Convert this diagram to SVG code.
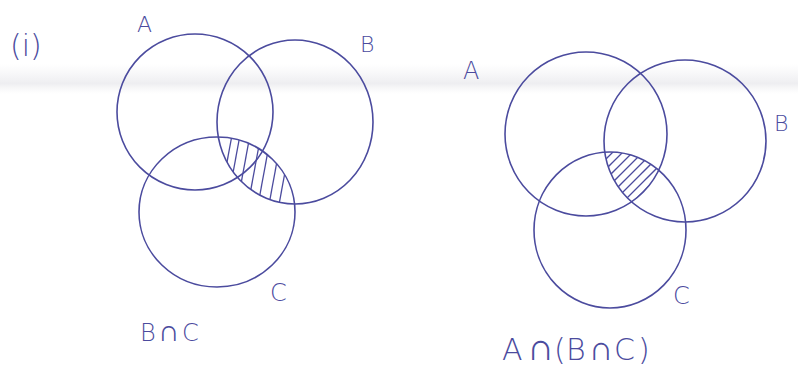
<svg xmlns="http://www.w3.org/2000/svg" width="798" height="372" viewBox="0 0 798 372">
<defs>
<style>
.c{fill:none;stroke:#4b4b9e;stroke-width:1.6}
.h{stroke:#4b4b9e;stroke-width:1.3}
.t{font-family:"DejaVu Sans","Liberation Sans",sans-serif;fill:#4b4b9e;font-weight:300}
</style>
<linearGradient id="band" x1="0" y1="0" x2="0" y2="1">
<stop offset="0" stop-color="#ececef" stop-opacity="0"/>
<stop offset="0.65" stop-color="#e8e8ec" stop-opacity="0.75"/>
<stop offset="1" stop-color="#f0f0f2" stop-opacity="0"/>
</linearGradient>
<clipPath id="lB"><ellipse cx="295" cy="122" rx="78" ry="82"/></clipPath>
<clipPath id="lC"><ellipse cx="217" cy="212" rx="78" ry="75"/></clipPath>
<clipPath id="rA"><ellipse cx="586" cy="134" rx="81" ry="82"/></clipPath>
<clipPath id="rB"><ellipse cx="685" cy="141" rx="81" ry="81"/></clipPath>
<clipPath id="rC"><ellipse cx="610" cy="230" rx="76" ry="78"/></clipPath>
</defs>
<rect width="798" height="372" fill="#ffffff"/>
<rect x="0" y="64" width="798" height="30" fill="url(#band)"/>
<text class="t" x="10" y="56" font-size="30">(i)</text>
<g id="left">
<g id="lA"><ellipse class="c" cx="195" cy="112" rx="78" ry="78"/><text class="t" x="137" y="32" font-size="22">A</text></g>
<g id="lBg"><ellipse class="c" cx="295" cy="122" rx="78" ry="82"/><text class="t" x="360" y="52" font-size="22">B</text></g>
<g id="lCg"><ellipse class="c" cx="217" cy="212" rx="78" ry="75"/><text class="t" x="270" y="301" font-size="24">C</text></g>
<g id="lHatch" clip-path="url(#lB)"><g clip-path="url(#lC)">
<line class="h" x1="220" y1="200" x2="232" y2="135"/>
<line class="h" x1="228" y1="200" x2="240" y2="135"/>
<line class="h" x1="238" y1="200" x2="250" y2="135"/>
<line class="h" x1="248" y1="205" x2="260" y2="140"/>
<line class="h" x1="258" y1="205" x2="270" y2="140"/>
<line class="h" x1="268" y1="210" x2="280" y2="145"/>
<line class="h" x1="278" y1="210" x2="290" y2="145"/>
</g></g>
<text class="t" y="341" font-size="24"><tspan x="140">B</tspan><tspan x="158" font-size="30">∩</tspan><tspan x="182">C</tspan></text>
</g>
<g id="right">
<g id="rAg"><ellipse class="c" cx="586" cy="134" rx="81" ry="82"/><text class="t" x="463" y="79" font-size="24">A</text></g>
<g id="rBg"><ellipse class="c" cx="685" cy="141" rx="81" ry="81"/><text class="t" x="774" y="131" font-size="22">B</text></g>
<g id="rCg"><ellipse class="c" cx="610" cy="230" rx="76" ry="78"/><text class="t" x="673" y="304" font-size="24">C</text></g>
<g id="rHatch" clip-path="url(#rA)"><g clip-path="url(#rB)"><g clip-path="url(#rC)">
<line class="h" x1="590" y1="175" x2="640" y2="125"/>
<line class="h" x1="590" y1="185" x2="650" y2="125"/>
<line class="h" x1="590" y1="195" x2="660" y2="125"/>
<line class="h" x1="595" y1="200" x2="670" y2="125"/>
<line class="h" x1="600" y1="205" x2="680" y2="125"/>
<line class="h" x1="605" y1="210" x2="690" y2="125"/>
<line class="h" x1="615" y1="210" x2="700" y2="125"/>
<line class="h" x1="625" y1="210" x2="710" y2="125"/>
</g></g></g>
<text class="t" y="360" font-size="30"><tspan x="502">A</tspan><tspan x="527" font-size="38">∩</tspan><tspan x="554">(</tspan><tspan x="566">B</tspan><tspan x="589" font-size="34">∩</tspan><tspan x="614">C</tspan><tspan x="638">)</tspan></text>
</g>
</svg>
